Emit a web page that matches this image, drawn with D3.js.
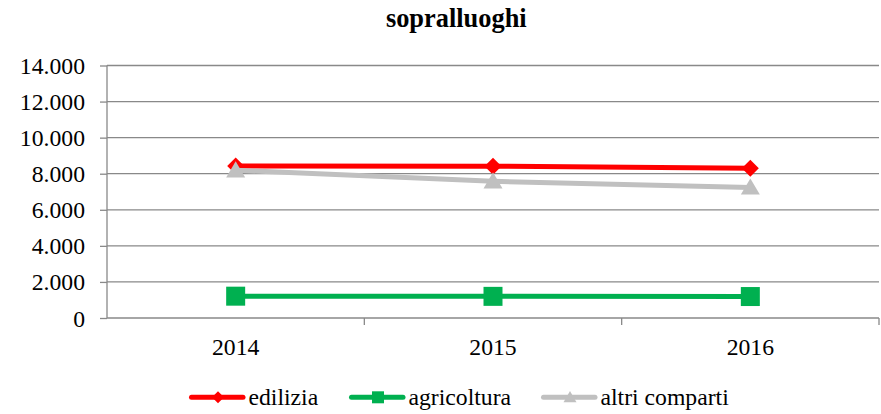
<!DOCTYPE html>
<html><head><meta charset="utf-8">
<script src="https://cdn.jsdelivr.net/npm/d3@7"></script>
<style>body{margin:0;background:#fff}svg{display:block}</style>
</head><body><svg id="c" width="881" height="414"></svg>
<script>
const title = "sopralluoghi";
const categories = ["2014", "2015", "2016"];
const seriesNames = ["edilizia", "agricoltura", "altri comparti"];
const edilizia = [8430, 8420, 8300];
const agricoltura = [1210, 1200, 1190];
const altriComparti = [8190, 7580, 7240];
const yTicks = [0, 2000, 4000, 6000, 8000, 10000, 12000, 14000];

const colors = ["#FF0000", "#00B050", "#C0C0C0"];
const markers = ["diamond", "square", "triangle"];
const seriesValues = [edilizia, agricoltura, altriComparti];
const FONT = "'Liberation Serif', 'Times New Roman', serif";
const FS = 23.7;

const svg = d3.select("#c");
const m = {l:107, r:879, t:65.5, b:318};
const x = d3.scaleBand().domain(categories).range([m.l, m.r]);
const y = d3.scaleLinear().domain([0, 14000]).range([m.b, m.t]);
const fmt = v => d3.format(",")(v).replace(/,/g, ".");

svg.append("text").attr("x", 456.3).attr("y", 26.7).attr("text-anchor","middle")
  .style("font-family",FONT).style("font-size","26.4px").style("font-weight","bold").style("fill","#000").text(title);

// gridlines
svg.append("g").selectAll("line").data(yTicks.filter(d=>d>0)).join("line")
  .attr("x1", m.l).attr("x2", m.r).attr("y1", d=>y(d)).attr("y2", d=>y(d))
  .attr("stroke","#898989").attr("stroke-width",1.3);

// y axis
const ya = svg.append("g").attr("transform",`translate(${m.l},0)`)
  .call(d3.axisLeft(y).tickValues(yTicks).tickFormat(fmt).tickSize(7).tickPadding(15));
ya.select(".domain").attr("stroke","#898989").attr("stroke-width",1.3).attr("d",`M0,${m.t}V${m.b}`);
ya.selectAll(".tick line").attr("stroke","#898989").attr("stroke-width",1.3);
ya.selectAll(".tick text").style("font-family",FONT).style("font-size",FS+"px").style("fill","#000").attr("dy","0.34em");

// x axis
const xa = svg.append("g").attr("transform",`translate(0,${m.b})`)
  .call(d3.axisBottom(x).tickSize(0).tickPadding(20));
xa.select(".domain").attr("stroke","#898989").attr("stroke-width",1.3).attr("d",`M${m.l},0H${m.r}`);
xa.selectAll(".tick text").style("font-family",FONT).style("font-size",FS+"px").style("fill","#000");
const bounds = categories.map(c=>x(c)).concat([m.r]).slice(1);
xa.append("g").selectAll("line").data(bounds).join("line")
  .attr("x1",d=>d).attr("x2",d=>d).attr("y1",0).attr("y2",7)
  .attr("stroke","#898989").attr("stroke-width",1.3);

function markerPath(type, s){
  if(type==="diamond") return `M0,${-s}L${s},0L0,${s}L${-s},0Z`;
  if(type==="square") return `M${-s},${-s}H${s}V${s}H${-s}Z`;
  return `M0,${-s*0.95}L${s},${s*0.75}L${-s},${s*0.75}Z`;
}
const markerSize = {diamond:8.5, square:9.5, triangle:9.5};
const cx = c => x(c) + x.bandwidth()/2;

seriesValues.forEach((vals,i)=>{
  const g = svg.append("g");
  const line = d3.line().x((d,j)=>cx(categories[j])).y(d=>y(d));
  g.append("path").datum(vals).attr("d",line).attr("fill","none")
    .attr("stroke",colors[i]).attr("stroke-width",5).attr("stroke-linejoin","round");
  g.selectAll("path.mk").data(vals).join("path").attr("class","mk")
    .attr("transform",(d,j)=>`translate(${cx(categories[j])},${y(d)})`)
    .attr("d",markerPath(markers[i], markerSize[markers[i]]))
    .attr("fill",colors[i]);
});

// legend
const legendX = [190, 350, 542];
const lg = svg.append("g");
seriesNames.forEach((n,i)=>{
  const g = lg.append("g").attr("transform",`translate(${legendX[i]},397.3)`);
  g.append("line").attr("x1",1.5).attr("x2",53).attr("y1",0).attr("y2",0)
    .attr("stroke",colors[i]).attr("stroke-width",5).attr("stroke-linecap","round");
  g.append("path").attr("transform","translate(28,0)")
    .attr("d",markerPath(markers[i], markers[i]==="triangle"?6.5:6)).attr("fill",colors[i]);
  g.append("text").attr("x",58.5).attr("y",7.7)
    .style("font-family",FONT).style("font-size",FS+"px").style("fill","#000").text(n);
});
</script></body></html>
